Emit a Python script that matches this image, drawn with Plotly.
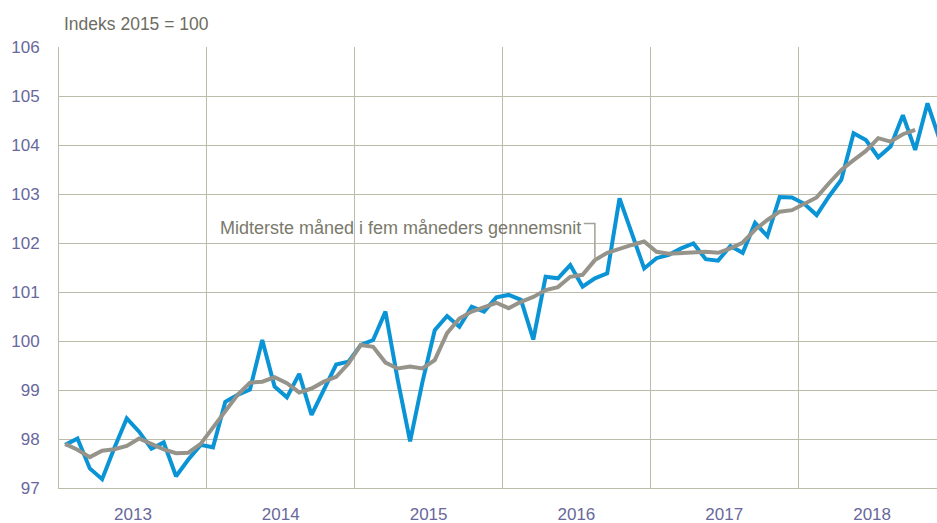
import numpy as np
import plotly.graph_objects as go

years = ["2013", "2014", "2015", "2016", "2017", "2018"]

# Monthly index, Jan 2013 - Dec 2018
index_values = [
    97.88, 98.01, 97.40, 97.18, 97.82, 98.42, 98.15, 97.80, 97.93, 97.24, 97.58, 97.88,
    97.83, 98.76, 98.90, 99.01, 100.02, 99.07, 98.85, 99.33, 98.49, 99.00, 99.52, 99.58,
    99.92, 100.02, 100.60, 99.20, 97.95, 99.16, 100.22, 100.51, 100.29, 100.70, 100.60, 100.89,
    100.94, 100.84, 100.03, 101.31, 101.28, 101.55, 101.11, 101.28, 101.38, 102.91, 102.20, 101.48,
    101.69, 101.76, 101.89, 101.99, 101.67, 101.64, 101.94, 101.80, 102.41, 102.14, 102.94, 102.93,
    102.80, 102.57, 102.95, 103.29, 104.24, 104.10, 103.75, 103.97, 104.61, 103.90, 104.85, 104.10,
]

# Five-month centred average, Jan 2013 - Oct 2018
moving_avg = [
    97.90, 97.78, 97.63, 97.76, 97.79, 97.86, 98.01, 97.90, 97.79, 97.71, 97.72, 97.90,
    98.24, 98.59, 98.90, 99.15, 99.17, 99.26, 99.14, 98.95, 99.03, 99.17, 99.27, 99.54,
    99.92, 99.88, 99.56, 99.44, 99.48, 99.44, 99.61, 100.16, 100.46, 100.60, 100.69, 100.78,
    100.67, 100.80, 100.90, 101.04, 101.10, 101.31, 101.35, 101.65, 101.80, 101.89, 101.96, 102.03,
    101.82, 101.78, 101.79, 101.80, 101.82, 101.80, 101.89, 102.01, 102.27, 102.47, 102.64, 102.67,
    102.80, 102.93, 103.22, 103.49, 103.69, 103.88, 104.14, 104.07, 104.22, 104.31,
]

annotation_text = "Midterste måned i fem måneders gennemsnit"
annotation_month = 43  # Aug 2016

FONT = "Liberation Sans Narrow, Arial Narrow, Liberation Sans, Arial, sans-serif"
GRID = "#bcbaa9"
TICK_COLOR = "#68689c"

W, H = 937, 523

x_months = np.arange(len(index_values)) + 0.5
x_avg = x_months[: len(moving_avg)]

fig = go.Figure()
fig.add_trace(go.Scatter(
    x=x_months, y=index_values, mode="lines",
    line=dict(color="#0a94d6", width=4), showlegend=False, hoverinfo="skip",
))
fig.add_trace(go.Scatter(
    x=x_avg, y=moving_avg, mode="lines",
    line=dict(color="#96948a", width=4), showlegend=False, hoverinfo="skip",
))

# leader line from the label to the moving-average point
lx = x_avg[annotation_month]
ly = moving_avg[annotation_month]
top_y = 102.40
fig.add_shape(
    type="path",
    path=f"M {lx - 0.9} {top_y} L {lx} {top_y} L {lx} {ly}",
    xref="x", yref="y", line=dict(color="#a3a195", width=1.5),
)
fig.add_annotation(
    x=lx - 1.0, y=102.31, xref="x", yref="y", text=annotation_text,
    showarrow=False, xanchor="right", yanchor="middle",
    font=dict(family=FONT, size=18, color="#7a796c"),
)

fig.update_layout(
    width=W, height=H,
    margin=dict(l=59, r=0, t=47, b=35),
    paper_bgcolor="white", plot_bgcolor="white",
    title=dict(
        text="Indeks 2015 = 100", xref="container", yref="container",
        x=64 / W, y=1 - 24 / H, xanchor="left", yanchor="middle",
        font=dict(family=FONT, size=17.5, color="#6d6d5f"),
    ),
    showlegend=False,
)
fig.update_xaxes(
    range=[0, 71.27], tickmode="array",
    tickvals=[12 * i + 6 for i in range(len(years))], ticktext=years,
    showgrid=False, ticks="", zeroline=False,
    minor=dict(tick0=0, dtick=12, showgrid=True, gridcolor=GRID, gridwidth=1, ticks=""),
    showline=True, linecolor=GRID, linewidth=1,
    tickfont=dict(family=FONT, size=17, color=TICK_COLOR),
    ticklabelstandoff=11, automargin=False,
)
fig.update_yaxes(
    range=[97, 106], dtick=1, tick0=97,
    showgrid=True, gridcolor=GRID, gridwidth=1, zeroline=False,
    showline=True, linecolor=GRID, linewidth=1, ticks="",
    tickfont=dict(family=FONT, size=17, color=TICK_COLOR),
    ticklabelstandoff=15, automargin=False,
)

# remove the default page margin so the figure fills the window exactly
fig.write_html(
    "out.html",
    config={"displayModeBar": False},
    post_script="document.body.style.margin='0';document.documentElement.style.overflow='hidden';",
)
